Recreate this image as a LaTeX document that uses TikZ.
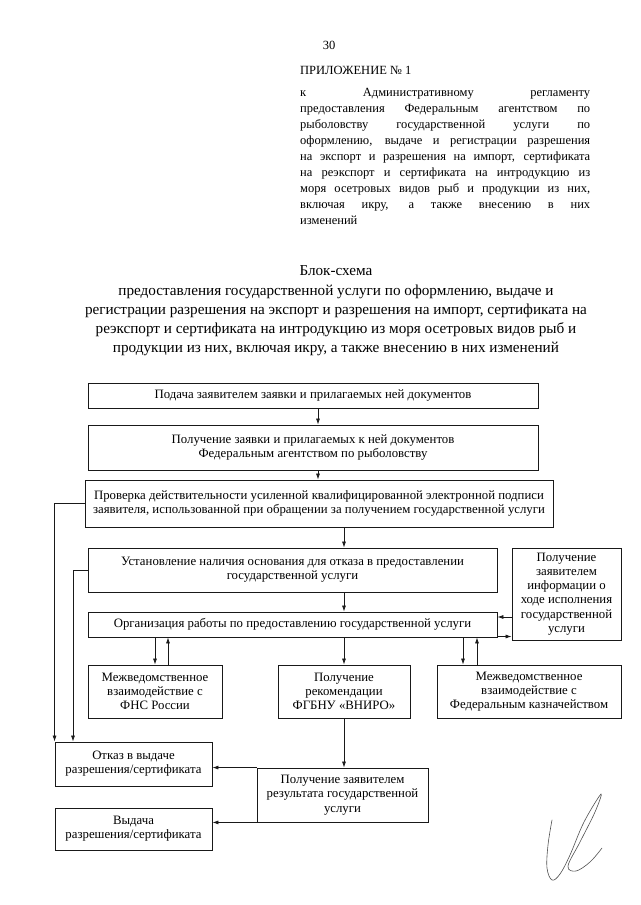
\documentclass[tikz,border=0pt]{standalone}
\usepackage{fontspec}
\setmainfont{Liberation Serif}
\usetikzlibrary{arrows.meta,calc}
\definecolor{inkBlack}{RGB}{25,25,25}
\definecolor{signGray}{RGB}{80,80,80}

\tikzset{
  blok/.style={draw=inkBlack, line width=0.9pt, align=center, inner sep=0pt,
    font=\fontsize{12.8}{14.2}\selectfont},
  arr/.style={-{Latex[length=6pt,width=4pt]}, line width=0.7pt, draw=inkBlack}
}

\begin{document}
\begin{tikzpicture}[x=1pt,y=-1pt]
  \useasboundingbox[fill=white] (0,0) rectangle (640,905);

  % header
  \node[font=\fontsize{12.5}{16}\selectfont] (nomer) at (329,45) {30};
  \node[anchor=west, inner sep=0pt, font=\fontsize{12.5}{16}\selectfont] (prilozh) at (300,70) {ПРИЛОЖЕНИЕ № 1};
  \node[anchor=north west, inner sep=0pt, align=left, font=\fontsize{12.5}{16}\selectfont] (reglament) at (300,88) {%
    \makebox[290pt][s]{к Административному регламенту}\\
    \makebox[290pt][s]{предоставления Федеральным агентством по}\\
    \makebox[290pt][s]{рыболовству государственной услуги по}\\
    \makebox[290pt][s]{оформлению, выдаче и регистрации разрешения}\\
    \makebox[290pt][s]{на экспорт и разрешения на импорт, сертификата}\\
    \makebox[290pt][s]{на реэкспорт и сертификата на интродукцию из}\\
    \makebox[290pt][s]{моря осетровых видов рыб и продукции из них,}\\
    \makebox[290pt][s]{включая икру, а также внесению в них}\\
    изменений};
  \node[align=center, inner sep=0pt, font=\fontsize{15.2}{19.2}\selectfont] (zagolovok) at (336,311) {%
    Блок-схема\\
    предоставления государственной услуги по оформлению, выдаче и\\
    регистрации разрешения на экспорт и разрешения на импорт, сертификата на\\
    реэкспорт и сертификата на интродукцию из моря осетровых видов рыб и\\
    продукции из них, включая икру, а также внесению в них изменений};

  % boxes
  \node[blok, minimum width=450pt, minimum height=25pt] (podacha) at (313,395.5)
    {Подача заявителем заявки и прилагаемых ней документов};
  \node[blok, minimum width=450pt, minimum height=45pt] (poluch) at (313,447.5)
    {Получение заявки и прилагаемых к ней документов\\Федеральным агентством по рыболовству};
  \node[blok, minimum width=468pt, minimum height=47pt] (proverka) at (319,503.5)
    {Проверка действительности усиленной квалифицированной электронной подписи\\заявителя, использованной при обращении за получением государственной услуги};
  \node[blok, minimum width=409pt, minimum height=44pt] (osnov) at (292.5,570)
    {Установление наличия основания для отказа в предоставлении\\государственной услуги};
  \node[blok, minimum width=109pt, minimum height=92pt] (info) at (566.5,594)
    {Получение\\заявителем\\информации о\\ходе исполнения\\государственной\\услуги};
  \node[blok, minimum width=409pt, minimum height=25pt] (organiz) at (292.5,624.5)
    {Организация работы по предоставлению государственной услуги};
  \node[blok, minimum width=134pt, minimum height=53pt] (fns) at (155,691.5)
    {Межведомственное\\взаимодействие с\\ФНС России};
  \node[blok, minimum width=132pt, minimum height=53pt] (vniro) at (344,691.5)
    {Получение\\рекомендации\\ФГБНУ «ВНИРО»};
  \node[blok, minimum width=184pt, minimum height=53pt] (kazna) at (529,691.5)
    {Межведомственное\\взаимодействие с\\Федеральным казначейством};
  \node[blok, minimum width=157pt, minimum height=44pt] (otkaz) at (133.5,764)
    {Отказ в выдаче\\разрешения/сертификата};
  \node[blok, minimum width=171pt, minimum height=54pt] (rezult) at (342.5,795)
    {Получение заявителем\\результата государственной\\услуги};
  \node[blok, minimum width=157pt, minimum height=42pt] (vydacha) at (133.5,829)
    {Выдача\\разрешения/сертификата};

  % helper columns
  \coordinate (os1) at (318,0);
  \coordinate (lev) at (73,0);
  \coordinate (fnsU) at (168,0);
  \coordinate (kazD) at (463,0);
  \coordinate (kazU) at (477,0);
  \coordinate (infV) at (0,617);
  \coordinate (infN) at (0,636.5);

  % main chain
  \draw[arr] (podacha.south -| os1) -- (poluch.north -| os1);
  \draw[arr] (poluch.south -| os1) -- (proverka.north -| os1);
  \draw[arr] (proverka.south -| vniro) -- (osnov.north -| vniro);
  \draw[arr] (osnov.south -| vniro) -- (organiz.north -| vniro);
  \draw[arr] (organiz.south -| vniro) -- (vniro.north);
  \draw[arr] (vniro.south) -- (rezult.north -| vniro);

  % refusals
  \draw[arr] (proverka.west) -| (otkaz.north west);
  \draw[arr] (osnov.west) -| (otkaz.north -| lev);

  % interagency requests
  \draw[arr] (organiz.south -| fns) -- (fns.north);
  \draw[arr] (fns.north -| fnsU) -- (organiz.south -| fnsU);
  \draw[arr] (organiz.south -| kazD) -- (kazna.north -| kazD);
  \draw[arr] (kazna.north -| kazU) -- (organiz.south -| kazU);

  % applicant info
  \draw[arr] (info.west |- infV) -- (organiz.east |- infV);
  \draw[arr] (organiz.east |- infN) -- (info.west |- infN);

  % results
  \draw[arr] (rezult.north west) -- (rezult.north west -| otkaz.east);
  \draw[arr] (rezult.south west) -- (rezult.south west -| vydacha.east);

  % signature
  \draw[signGray, line width=0.6pt, line cap=round] plot[smooth, tension=0.6] coordinates
    {(552,820) (548,845) (547,868) (552,880) (560,874) (570,855) (584,822) (601,794)
     (595,812) (580,842) (568,866) (576,871) (590,862) (602,848)};
\end{tikzpicture}
\end{document}
